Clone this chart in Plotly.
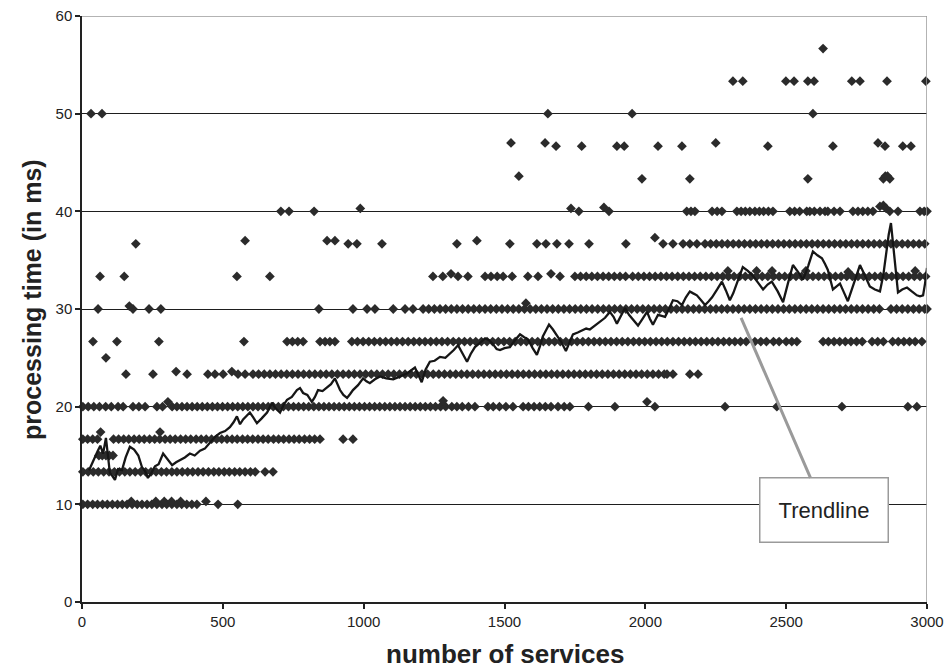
import plotly.graph_objects as go

# ---------------- data ----------------
# x positions (number of services) of the measurements at each quantized level (ms)
x_at_10 = [3, 20, 38, 55, 73, 90, 108, 126, 143, 160, 178, 196, 213, 231, 248, 266, 284,
           301, 319, 337, 354, 372, 390, 408, 483, 553]
x_at_13 = [3, 22, 40, 58, 77, 96, 115, 133, 152, 170, 189, 208, 226, 245, 263, 282, 300,
           319, 337, 356, 375, 393, 412, 430, 449, 468, 486, 505, 523, 542, 560, 579, 598,
           615, 650, 678]
x_at_16 = [3, 20, 38, 55, 112, 130, 148, 166, 185, 203, 221, 240, 258, 276, 295, 313, 331,
           350, 368, 386, 405, 423, 441, 460, 478, 496, 515, 533, 551, 570, 588, 606, 625,
           643, 661, 680, 698, 716, 735, 753, 771, 790, 808, 826, 845, 927, 962]
x_at_20 = [3, 22, 42, 62, 84, 104, 128, 146, 181, 202, 224, 266, 286, 320, 337, 355, 373,
           391, 409, 427, 445, 463, 481, 499, 517, 535, 553, 571, 589, 607, 625, 643, 661,
           679, 697, 715, 733, 751, 769, 787, 805, 823, 841, 859, 877, 895, 913, 931, 949,
           967, 985, 1003, 1021, 1039, 1057, 1075, 1093, 1111, 1129, 1147, 1165, 1183, 1201,
           1219, 1237, 1255, 1273, 1291, 1313, 1331, 1350, 1372, 1395, 1441, 1460, 1482,
           1505, 1530, 1566, 1585, 1605, 1625, 1645, 1665, 1690, 1712, 1732, 1798, 1892,
           2034, 2283, 2467, 2698, 2932, 2964]
x_at_23 = [156, 252, 373, 447, 472, 501, 554, 579, 607, 627, 647, 667, 687, 707, 727, 747,
           767, 787, 807, 827, 847, 867, 887, 907, 927, 947, 967, 987, 1007, 1027, 1047,
           1067, 1087, 1107, 1127, 1147, 1167, 1187, 1207, 1227, 1247, 1267, 1287, 1307,
           1327, 1347, 1367, 1387, 1407, 1427, 1447, 1467, 1487, 1507, 1527, 1547, 1567,
           1587, 1607, 1627, 1647, 1667, 1687, 1707, 1727, 1747, 1767, 1787, 1807, 1827,
           1847, 1867, 1887, 1907, 1927, 1947, 1967, 1987, 2007, 2027, 2047, 2067, 2077,
           2098, 2158, 2187]
x_at_26 = [39, 124, 273, 575, 728, 747, 766, 785, 845, 863, 880, 898, 958, 978, 998, 1018,
           1038, 1058, 1078, 1098, 1118, 1138, 1158, 1178, 1198, 1218, 1238, 1258, 1278,
           1298, 1318, 1338, 1358, 1378, 1398, 1418, 1438, 1458, 1478, 1498, 1518, 1538,
           1558, 1578, 1598, 1618, 1638, 1658, 1678, 1698, 1718, 1738, 1758, 1778, 1798,
           1818, 1838, 1858, 1878, 1898, 1918, 1938, 1958, 1978, 1998, 2018, 2038, 2058,
           2078, 2098, 2118, 2138, 2158, 2178, 2198, 2218, 2238, 2258, 2278, 2298, 2318,
           2338, 2358, 2389, 2410, 2430, 2455, 2475, 2500, 2520, 2538, 2631, 2650, 2670,
           2690, 2710, 2730, 2750, 2770, 2805, 2825, 2845, 2878, 2898, 2918, 2938, 2958,
           2982]
x_at_30 = [57, 181, 238, 280, 841, 962, 1012, 1040, 1105, 1147, 1175, 1211, 1231, 1251,
           1271, 1291, 1311, 1331, 1351, 1371, 1391, 1411, 1431, 1451, 1471, 1491, 1511,
           1531, 1551, 1571, 1591, 1611, 1631, 1651, 1671, 1691, 1711, 1731, 1751, 1771,
           1791, 1811, 1831, 1851, 1871, 1891, 1911, 1931, 1951, 1971, 1991, 2011, 2031,
           2051, 2071, 2091, 2111, 2131, 2151, 2171, 2191, 2211, 2231, 2251, 2271, 2291,
           2311, 2331, 2351, 2371, 2391, 2411, 2431, 2451, 2471, 2491, 2511, 2531, 2551,
           2571, 2591, 2611, 2631, 2651, 2671, 2691, 2711, 2731, 2751, 2771, 2791, 2811,
           2831, 2872, 2892, 2912, 2932, 2952, 2972, 2992, 3000]
x_at_33 = [64, 150, 550, 667, 1246, 1281, 1335, 1370, 1431, 1452, 1474, 1495, 1527, 1583,
           1619, 1697, 1750, 1770, 1790, 1810, 1830, 1850, 1870, 1890, 1910, 1930, 1955,
           1975, 1995, 2015, 2035, 2055, 2075, 2095, 2115, 2135, 2155, 2175, 2195, 2215,
           2235, 2255, 2275, 2295, 2315, 2335, 2355, 2375, 2395, 2415, 2435, 2455, 2475,
           2495, 2515, 2535, 2555, 2575, 2595, 2615, 2635, 2655, 2675, 2695, 2715, 2735,
           2755, 2775, 2795, 2815, 2835, 2855, 2875, 2895, 2915, 2935, 2955, 2975, 2995]
x_at_36 = [191, 945, 976, 1065, 1331, 1519, 1615, 1647, 1686, 1729, 1800, 1931, 2063, 2098,
           2134, 2158, 2183, 2212, 2232, 2252, 2272, 2292, 2312, 2332, 2352, 2372, 2392,
           2412, 2432, 2452, 2472, 2492, 2512, 2532, 2552, 2572, 2592, 2612, 2632, 2652,
           2672, 2692, 2712, 2732, 2752, 2772, 2792, 2812, 2832, 2852, 2872, 2892, 2912,
           2932, 2952, 2972, 2992]
x_at_40 = [706, 735, 824, 1764, 1871, 2147, 2162, 2176, 2237, 2255, 2272, 2325, 2340, 2355,
           2371, 2389, 2405, 2420, 2437, 2453, 2513, 2530, 2548, 2573, 2584, 2600, 2620,
           2638, 2648, 2670, 2691, 2737, 2755, 2772, 2790, 2808, 2868, 2897, 2975, 2990, 3000]
x_at_43 = [1988, 2158, 2577, 2845, 2868]
x_at_46 = [1683, 1774, 1899, 1925, 2045, 2130, 2435, 2666, 2851, 2914, 2943]
x_at_50 = [32, 71, 1654, 1953, 2595]
x_at_53 = [2311, 2346, 2499, 2528, 2577, 2599, 2733, 2762, 2858, 2996]
x_at_56 = [2631]

level_values = [10, 13.33, 16.67, 20, 23.33, 26.67, 30, 33.33, 36.67, 40, 43.33, 46.67,
                50, 53.33, 56.67]

# measurements that sit slightly off the quantized levels
off_x = [175, 262, 292, 318, 350, 440, 60, 72, 85, 97, 110, 85, 66, 277, 305, 1282, 2006,
         334, 532, 168, 1576, 1310, 1665, 2293, 2395, 2450, 2570, 2720, 2958, 579, 870,
         898, 1402, 2034, 988, 1736, 1853, 2833, 2845, 2855, 1551, 2852, 2860, 1523, 1644,
         2250, 2826]
off_y = [10.3, 10.3, 10.3, 10.3, 10.3, 10.3, 15.0, 15.0, 15.0, 15.0, 15.0, 25.0, 17.4,
         17.4, 20.5, 20.6, 20.5, 23.6, 23.6, 30.3, 30.6, 33.6, 33.6, 33.9, 33.9, 33.9,
         33.9, 33.8, 33.9, 37.0, 37.0, 37.0, 37.0, 37.3, 40.3, 40.3, 40.4, 40.5, 40.6,
         40.3, 43.6, 43.6, 43.6, 47.0, 47.0, 47.0, 47.0]

# moving-average trendline
trend_x = [25, 35, 46, 55, 65, 75, 85, 92, 99, 108,
           117, 128, 142, 155, 170, 185, 200, 213, 224, 234,
           246, 259, 272, 288, 304, 320, 334, 348, 365, 383,
           400, 419, 436, 454, 472, 490, 508, 525, 538, 550,
           561, 572, 584, 596, 608, 621, 638, 657, 666, 674,
           688, 703, 716, 728, 745, 763, 774, 785, 800, 816,
           827, 838, 854, 870, 884, 898, 907, 916, 928, 941,
           952, 962, 980, 998, 1010, 1022, 1040, 1058, 1080, 1105,
           1130, 1153, 1168, 1182, 1195, 1206, 1220, 1235, 1252, 1271,
           1290, 1306, 1320, 1335, 1350, 1367, 1380, 1395, 1412, 1431,
           1445, 1459, 1472, 1484, 1500, 1519, 1537, 1555, 1570, 1583,
           1600, 1615, 1626, 1636, 1647, 1658, 1672, 1686, 1702, 1718,
           1730, 1743, 1760, 1775, 1790, 1803, 1820, 1839, 1857, 1874,
           1887, 1899, 1914, 1928, 1942, 1956, 1965, 1974, 1990, 2006,
           2016, 2027, 2036, 2045, 2058, 2070, 2084, 2098, 2114, 2130,
           2144, 2158, 2170, 2183, 2198, 2212, 2225, 2237, 2255, 2272,
           2286, 2300, 2312, 2325, 2336, 2346, 2364, 2382, 2400, 2418,
           2434, 2449, 2470, 2489, 2506, 2524, 2542, 2560, 2578, 2595,
           2611, 2627, 2638, 2648, 2657, 2666, 2678, 2691, 2705, 2719,
           2740, 2762, 2780, 2797, 2815, 2833, 2845, 2855, 2864, 2872,
           2880, 2889, 2897, 2912, 2929, 2946, 2964, 2975, 2986, 2993,
           3000]
trend_y = [13.5, 14.2, 14.9, 15.4, 16.0, 15.2, 16.8, 14.6, 13.2, 12.9,
           12.5, 13.6, 13.5, 14.8, 15.9, 15.6, 15.0, 13.8, 13.4, 12.7,
           13.2, 13.9, 14.1, 15.2, 14.6, 14.0, 14.3, 14.5, 14.8, 15.2,
           15.0, 15.5, 15.7, 16.3, 16.9, 17.3, 17.5, 17.9, 18.4, 19.0,
           18.2, 18.7, 19.0, 19.4, 18.9, 18.3, 18.8, 19.4, 19.9, 20.4,
           19.8, 19.4, 20.2, 20.7, 21.0, 21.7, 21.9, 21.4, 21.2, 20.5,
           21.0, 21.7, 21.6, 22.0, 22.3, 22.9, 22.3, 21.7, 21.2, 20.9,
           21.3, 21.7, 22.2, 22.9, 22.6, 22.4, 22.8, 23.1, 22.9, 22.8,
           23.1, 23.4, 23.7, 24.0, 23.2, 22.5, 23.8, 24.6, 24.7, 25.1,
           25.0, 25.4, 25.8, 26.3, 25.5, 24.6, 25.4, 26.1, 26.5, 27.0,
           26.8, 26.4, 25.9, 25.8, 26.0, 26.1, 26.8, 27.4, 27.1, 26.9,
           26.0, 25.3, 26.2, 27.2, 27.8, 28.4, 27.9, 27.3, 26.6, 25.7,
           26.6, 27.4, 27.6, 27.8, 28.0, 27.9, 28.3, 28.7, 29.1, 29.7,
           29.2, 28.5, 29.3, 30.1, 29.4, 28.9, 28.6, 28.3, 29.0, 29.7,
           29.0, 28.4, 28.9, 29.4, 29.3, 29.2, 30.0, 30.9, 30.8, 30.4,
           31.2, 31.8, 31.6, 31.4, 30.9, 30.4, 30.8, 31.2, 32.0, 32.8,
           31.9, 30.9, 31.6, 32.6, 33.5, 34.3, 33.9, 33.4, 32.7, 32.0,
           32.5, 32.8, 31.8, 30.7, 32.6, 34.5, 33.8, 33.0, 34.4, 35.9,
           35.5, 35.2, 34.6, 34.0, 33.0, 32.0, 32.3, 32.6, 31.7, 30.8,
           32.6, 34.5, 33.4, 32.3, 32.0, 31.8, 33.5, 35.8, 37.6, 38.8,
           36.5, 33.5, 31.7, 32.0, 32.2, 31.8, 31.4, 31.3, 31.4, 32.6,
           34.2]

x_ticks = [0, 500, 1000, 1500, 2000, 2500, 3000]
y_ticks = [0, 10, 20, 30, 40, 50, 60]

annot_text = "Trendline"
annot_point = (2340, 29.1)
annot_box = (2636, 9.4)

# ---------------- build the figure ----------------
level_lists = [x_at_10, x_at_13, x_at_16, x_at_20, x_at_23, x_at_26, x_at_30, x_at_33,
               x_at_36, x_at_40, x_at_43, x_at_46, x_at_50, x_at_53, x_at_56]
pts_x, pts_y = [], []
for lv, xs in zip(level_values, level_lists):
    pts_x.extend(xs)
    pts_y.extend([lv] * len(xs))
pts_x.extend(off_x)
pts_y.extend(off_y)

FONT = "Liberation Sans, Arial, sans-serif"

fig = go.Figure()
fig.add_trace(go.Scatter(
    x=pts_x, y=pts_y, mode="markers",
    marker=dict(symbol="diamond", size=7.5, color="#2b2b2b", line=dict(width=0)),
    showlegend=False, cliponaxis=False,
))
fig.add_trace(go.Scatter(
    x=trend_x, y=trend_y, mode="lines",
    line=dict(color="#161616", width=2.3),
    showlegend=False,
))

fig.update_layout(
    width=946, height=668,
    margin=dict(l=82, r=19, t=16, b=66, autoexpand=False),
    paper_bgcolor="white", plot_bgcolor="white",
    font=dict(family=FONT, color="#222222", size=15),
    xaxis=dict(
        range=[0, 3000], tickvals=x_ticks, ticktext=[str(v) for v in x_ticks],
        showgrid=False, zeroline=False, automargin=False,
        showline=True, linecolor="#222222", linewidth=1.5,
        ticks="outside", ticklen=5, tickcolor="#222222", tickwidth=1.5,
        tickfont=dict(size=15, family=FONT, color="#222222"),
    ),
    yaxis=dict(
        range=[0, 60], tickvals=y_ticks, ticktext=[str(v) for v in y_ticks],
        showgrid=True, gridcolor="#1e1e1e", gridwidth=1.2, zeroline=False,
        automargin=False,
        showline=True, linecolor="#222222", linewidth=1.5,
        ticks="outside", ticklen=5, tickcolor="#222222", tickwidth=1.5,
        tickfont=dict(size=15, family=FONT, color="#222222"),
    ),
    shapes=[
        dict(type="line", xref="x", yref="y", x0=0, x1=3000, y0=60, y1=60,
             line=dict(color="#9a9a9a", width=1.5), layer="above"),
        dict(type="line", xref="x", yref="y", x0=3000, x1=3000, y0=0, y1=60,
             line=dict(color="#9a9a9a", width=1.5), layer="above"),
    ],
    annotations=[
        dict(text="<b>number of services</b>", xref="paper", yref="paper",
             x=0.5, y=0, xanchor="center", yanchor="middle", yshift=-52,
             showarrow=False, font=dict(size=26, family=FONT, color="#222222")),
        dict(text="<b>processing time (in ms)</b>", xref="paper", yref="paper",
             x=0, y=0.5, xanchor="center", yanchor="middle", xshift=-50, yshift=9,
             textangle=-90, showarrow=False,
             font=dict(size=25, family=FONT, color="#222222")),
        dict(text=annot_text, xref="x", yref="y",
             x=annot_point[0], y=annot_point[1],
             axref="x", ayref="y", ax=annot_box[0], ay=annot_box[1],
             showarrow=True, arrowhead=0, arrowwidth=3, arrowcolor="#9a9a9a",
             font=dict(size=22, family=FONT, color="#222222"),
             bgcolor="white", bordercolor="#9a9a9a", borderwidth=1.5, borderpad=4,
             width=119, height=55, align="center", valign="middle"),
    ],
)

fig.write_html(
    "out.html",
    config={"displayModeBar": False},
    post_script="document.body.style.margin='0';document.body.style.overflow='hidden';",
)
